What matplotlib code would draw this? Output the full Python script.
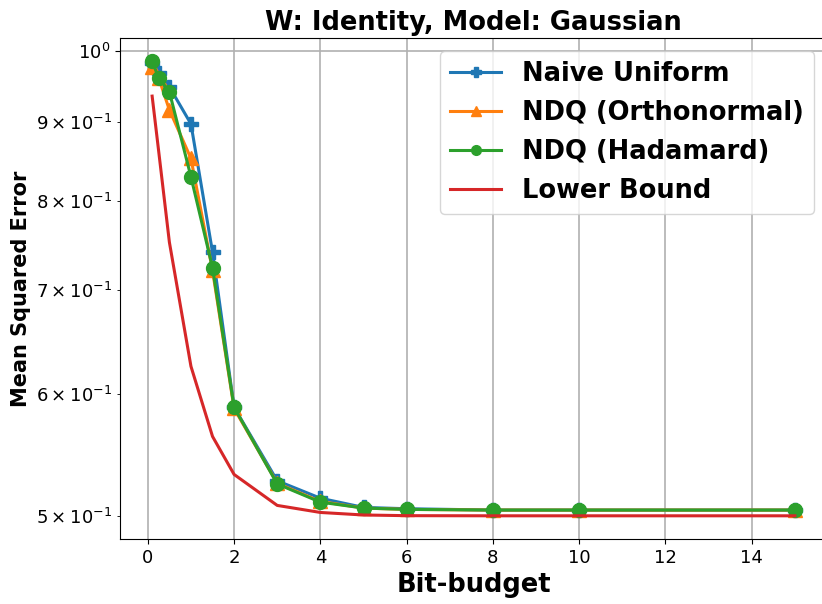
"""
MSE vs bit-budget for different quantizers
"""

import matplotlib
matplotlib.use("Agg")
import matplotlib.pyplot as plt

bits = [0.1, 0.25, 0.5, 1, 1.5, 2, 3, 4, 5, 6, 8, 10, 15]

naive_uniform = [0.982, 0.968, 0.948, 0.897, 0.741, 0.588, 0.527, 0.5135, 0.5065, 0.5055, 0.5045, 0.5045, 0.5045]
ndq_orth = [0.976, 0.961, 0.916, 0.852, 0.721, 0.587, 0.525, 0.511, 0.506, 0.505, 0.5045, 0.5045, 0.5045]
ndq_hadamard = [0.985, 0.961, 0.941, 0.829, 0.724, 0.588, 0.5245, 0.5105, 0.506, 0.505, 0.5045, 0.5045, 0.5045]
lower_bound = [0.935, 0.862, 0.752, 0.625, 0.563, 0.532, 0.508, 0.5027, 0.5008, 0.5003, 0.5002, 0.5002, 0.5002]

fig = plt.figure(figsize=(8.22, 6.04), dpi=100)
ax = fig.add_axes([120 / 822, 1 - 539 / 604, 707 / 822, 501 / 604])

ax.plot(bits, naive_uniform, marker="P", markersize=10, linewidth=2.2, label="Naive Uniform")
ax.plot(bits, ndq_orth, marker="^", markersize=10, linewidth=2.2, label="NDQ (Orthonormal)")
ax.plot(bits, ndq_hadamard, marker="o", markersize=10, linewidth=2.2, label="NDQ (Hadamard)")
ax.plot(bits, lower_bound, linewidth=2.2, label="Lower Bound")

ax.set_yscale("log")
ax.set_ylim(0.4832, 1.0196)
ax.grid(True, linewidth=1.2)
ax.tick_params(labelsize=13)
ax.tick_params(which="minor", labelsize=13)

ax.set_xlabel("Bit-budget", fontsize=18.5, fontweight="bold")
ax.set_ylabel("Mean Squared Error", fontsize=15, fontweight="bold")
ax.set_title("W: Identity, Model: Gaussian", fontsize=18.5, fontweight="bold")
ax.legend(loc="upper right", prop={"size": 18.5, "weight": "bold"},
          markerscale=0.7, labelspacing=0.5)

fig.savefig("out.png", dpi=100)
